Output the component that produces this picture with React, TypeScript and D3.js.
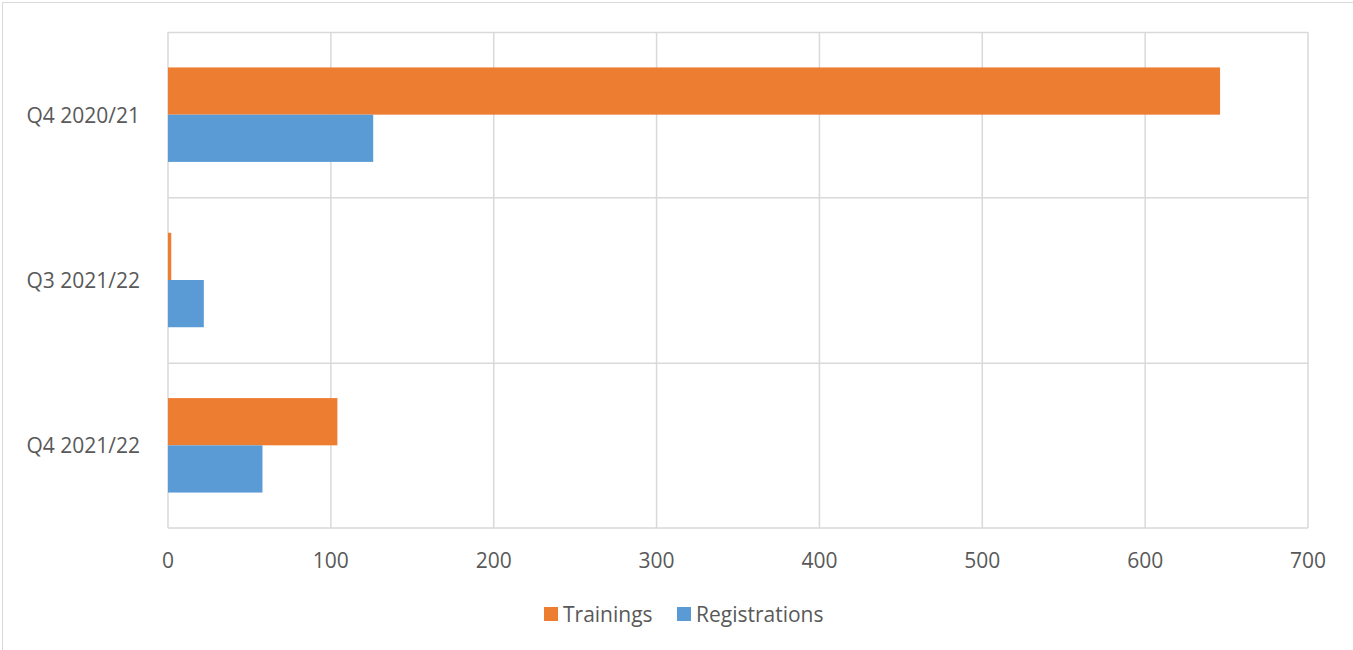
import React from "react";
import * as d3 from "d3";

const categories = ["Q4 2020/21", "Q3 2021/22", "Q4 2021/22"];
const trainings = [646, 2, 104];
const registrations = [126, 22, 58];
const xTicks = [0, 100, 200, 300, 400, 500, 600, 700];
const seriesNames = ["Trainings", "Registrations"];

const W = 1353;
const H = 650;
const margin = { top: 32, right: 45, bottom: 122, left: 168 };
const colors = ["#ED7D31", "#5B9BD5"];
const font = "'Open Sans', sans-serif";
const textColor = "#595959";
const gridColor = "#d9d9d9";

export default function App() {
  const x = d3.scaleLinear().domain([0, 700]).range([margin.left, W - margin.right]);
  const y = d3.scaleBand().domain(categories).range([margin.top, H - margin.bottom]);
  const inner = d3
    .scaleBand()
    .domain(seriesNames)
    .range([0, y.bandwidth()])
    .paddingOuter(0.75)
    .paddingInner(0);

  const series = [trainings, registrations];
  const bottom = H - margin.bottom;

  return (
    <svg width={W} height={H} style={{ position: "absolute", left: 0, top: 0, background: "#fff" }}>
      <rect x={2.5} y={2.5} width={W + 10} height={H + 10} fill="#fff" stroke={gridColor} />
      {/* horizontal grid lines at band edges */}
      {categories.map((c) => (
        <line key={c} x1={x(0)} x2={x(700)} y1={y(c)! + 0.5} y2={y(c)! + 0.5} stroke={gridColor} strokeWidth={1.5} />
      ))}
      <line x1={x(0)} x2={x(700)} y1={bottom} y2={bottom} stroke={gridColor} strokeWidth={1.5} />
      {xTicks.map((t) => (
        <line key={t} x1={x(t)} x2={x(t)} y1={margin.top} y2={bottom} stroke={gridColor} strokeWidth={1.5} />
      ))}
      {series.map((vals, si) =>
        vals.map((v, i) => (
          <rect
            key={si + "-" + i}
            x={x(0)}
            y={y(categories[i])! + inner(seriesNames[si])!}
            width={x(v) - x(0)}
            height={inner.bandwidth()}
            fill={colors[si]}
          />
        ))
      )}
      {categories.map((c) => (
        <text
          key={c}
          x={140}
          y={y(c)! + y.bandwidth() / 2}
          textAnchor="end"
          dominantBaseline="central"
          fontFamily={font}
          fontSize={21}
          fill={textColor}
        >
          {c}
        </text>
      ))}
      {xTicks.map((t) => (
        <text
          key={t}
          x={x(t)}
          y={560}
          textAnchor="middle"
          dominantBaseline="central"
          fontFamily={font}
          fontSize={21}
          fill={textColor}
        >
          {t}
        </text>
      ))}
      <g>
        {seriesNames.map((s, i) => {
          const lx = i === 0 ? 544 : 677;
          return (
            <g key={s}>
              <rect x={lx} y={607} width={14} height={14} fill={colors[i]} />
              <text
                x={lx + 19}
                y={614}
                dominantBaseline="central"
                fontFamily={font}
                fontSize={21}
                fill={textColor}
              >
                {s}
              </text>
            </g>
          );
        })}
      </g>
    </svg>
  );
}
